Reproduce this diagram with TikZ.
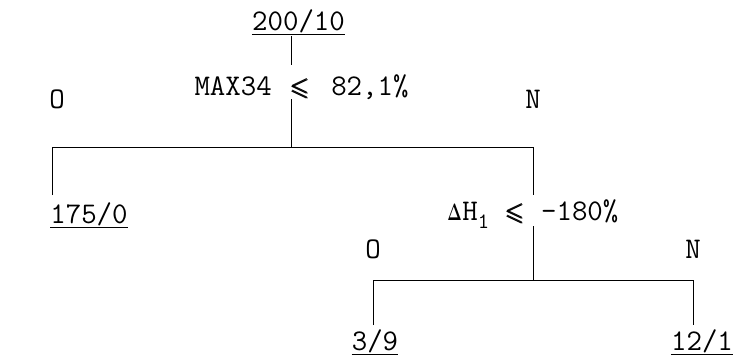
\documentclass[tikz,border=0pt]{standalone}
\usepackage{amsmath,amssymb,graphicx}
\usepackage[no-math]{fontspec}
\begin{document}
\begin{tikzpicture}[x=1pt,y=-1pt,
  lbl/.style={inner sep=0pt,anchor=base,font=\ttfamily\fontsize{30}{30}\selectfont},
  conn/.style={line width=1pt,black},
  uline/.style={line width=1pt}]
\newcommand{\mysmle}{\makebox[15pt]{\fontsize{25}{25}\selectfont$\pmb{\leqslant}$}}
\useasboundingbox (0,0) rectangle (735,362);
% nodes
\node[lbl] (root) at (298.5,30) {200/10};
\node[lbl] (q1) at (301.5,95) {MAX34\hspace{21pt}\mysmle\hspace{23.5pt}82,1\%};
\node[lbl] (o1) at (57,108) {O};
\node[lbl] (n1) at (533,108) {N};
\node[lbl] (leafA) at (89,223) {175/0};
\node[lbl] (q2) at (532.5,220) {\makebox[15.75pt]{\scalebox{0.62}[0.95]{$\mathbf{\Delta}$}}H\raisebox{-8pt}{\fontsize{22}{22}\selectfont 1}\hspace{18.5pt}\mysmle\hspace{18.5pt}-180\%};
\node[lbl] (o2) at (373,258) {O};
\node[lbl] (n2) at (693,258) {N};
\node[lbl] (leafB) at (375,350) {3/9};
\node[lbl] (leafC) at (702,350) {12/1};
% underlines
\foreach \n in {root,leafA,leafB,leafC}
  \draw[uline] ([yshift=-4pt]\n.base west) -- ([yshift=-4pt]\n.base east);
% junction coordinates
\coordinate (j1) at (291,147);
\coordinate (cL) at (52,147);
\coordinate (cR) at (533,147);
\coordinate (j2) at (533,280);
\coordinate (dL) at (373,280);
\coordinate (dR) at (693,280);
% connectors
\draw[conn] ([yshift=-6pt]root.base -| j1) -- ([yshift=30pt]q1.base -| j1);
\draw[conn] ([yshift=-4pt]q1.base -| j1) -- (j1);
\draw[conn] ([yshift=28pt]leafA.base -| cL) -- (cL) -- (cR) -- ([yshift=25pt]q2.base -| cR);
\draw[conn] ([yshift=-6pt]q2.base -| j2) -- (j2);
\draw[conn] ([yshift=25pt]leafB.base -| dL) -- (dL) -- (dR) -- ([yshift=25pt]leafC.base -| dR);
\end{tikzpicture}
\end{document}
